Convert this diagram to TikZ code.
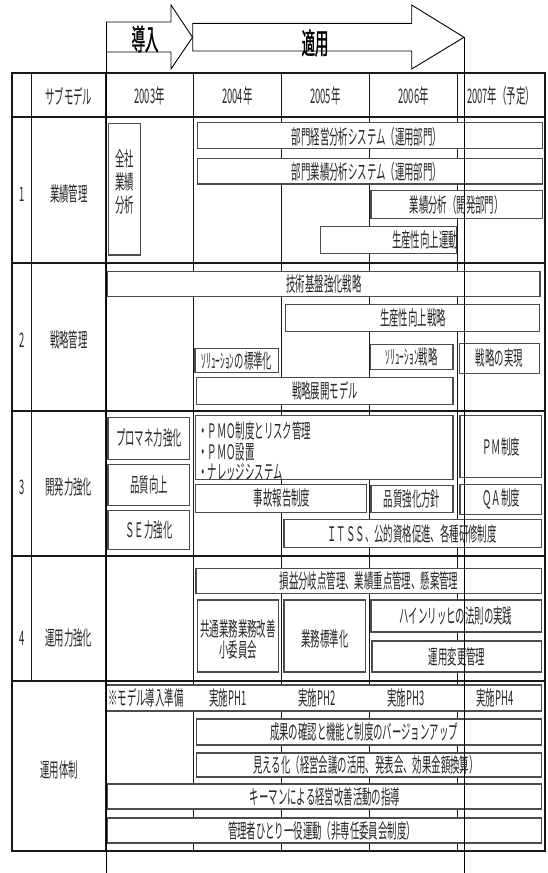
\documentclass[tikz,border=0pt]{standalone}
\usepackage{fontspec}
\newfontfamily\jp[FakeStretch=0.47]{Noto Sans CJK JP}
\newfontfamily\jpbig[FakeStretch=0.46,FakeBold=1.2]{Noto Sans CJK JP}
\newcommand\bx[5]{\node[bx, minimum width={#4-#2}, minimum height={#5-#3}] (#1) at ({(#2+#4)/2},{(#3+#5)/2}) {};}
\begin{document}
\begin{tikzpicture}[x=1pt,y=-1pt,
  grid/.style={line width=1pt,draw=black!90},
  frame/.style={line width=2pt,draw=black!90},
  bx/.style={draw=black!70,line width=1.1pt,fill=white,inner sep=0pt,outer sep=0pt,rectangle},
  txt/.style={font={\jp\fontsize{20}{23}\selectfont},text=black!85,inner sep=0pt},
  big/.style={font={\jpbig\fontsize{29}{30}\selectfont},text=black,inner sep=0pt},
  longline/.style={line width=1pt,draw=black},
  arrowshape/.style={line width=0.9pt,draw=black,fill=white}]
\useasboundingbox (0,0) rectangle (547,873);
% table grid
\foreach \x in {193.3,281.3,369.3,457.7} \draw[grid] (\x,72.7) -- (\x,851);
\draw[grid] (31.7,72.7) -- (31.7,681);
\draw[grid,line width=1.5pt] (106,72.7) -- (106,851);
\draw[frame] (12.3,72.7) rectangle (545,851);
\foreach \y in {116.7,263.3,410.7,556,681} \draw[frame] (12.3,\y) -- (545,\y);
% header
\node[txt] (h0) at (68.8,96) {サブモデル};
\node[txt] (h1) at (149.6,96) {2003年};
\node[txt] (h2) at (237.3,96) {2004年};
\node[txt] (h3) at (325.3,96) {2005年};
\node[txt] (h4) at (413.5,96) {2006年};
\node[txt] (h5) at (501,96) {2007年（予定）};
% row labels
\node[txt] (n1) at (22,194) {1};
\node[txt] (r1) at (68.8,194) {業績管理};
\node[txt] (n2) at (22,340) {2};
\node[txt] (r2) at (68.8,340) {戦略管理};
\node[txt] (n3) at (22,487) {3};
\node[txt] (r3) at (68.8,487) {開発力強化};
\node[txt] (n4) at (22,638) {4};
\node[txt] (r4) at (68.8,638) {運用力強化};
\node[txt] (r5) at (59,770) {運用体制};
% row 1 boxes
\bx{A1}{108.3}{123.3}{140.7}{255}
\bx{B1}{197.6}{122.7}{542.5}{148.5}
\bx{B2}{197.6}{158.9}{542.5}{184}
\bx{B3}{371}{190.7}{542.5}{218.1}
\bx{B4}{320.6}{226.5}{456.4}{253.9}
% row 2 boxes
\bx{C1}{107.3}{271.7}{540}{296.3}
\bx{C2}{285.7}{304.8}{539.4}{331.8}
\bx{C3}{195}{348.3}{278.7}{372.2}
\bx{C4}{370.4}{344.3}{453}{369.5}
\bx{C5}{459.2}{343.2}{539.4}{373.6}
\bx{C6}{196.9}{377.3}{453}{404.3}
% row 3 boxes
\bx{D1}{108}{417.4}{189.9}{459.1}
\bx{D2}{108}{464.1}{189.9}{505.2}
\bx{D3}{108}{510.9}{189.9}{549.3}
\bx{D4}{195.8}{415.7}{453}{479.2}
\bx{D5}{460}{415.7}{541.8}{477.5}
\bx{D6}{195.8}{484.2}{366.9}{512.6}
\bx{D7}{371}{485.2}{453}{512.6}
\bx{D8}{460}{484.2}{541.8}{514.2}
\bx{D9}{284}{519.2}{541.8}{547.6}
% row 4 boxes
\bx{E1}{196}{568.4}{541.8}{593.5}
\bx{E2}{197.6}{600}{278.7}{672}
\bx{E3}{284}{600}{365.9}{672}
\bx{E4}{371}{600}{541.8}{632}
\bx{E5}{372}{641}{541.8}{672}
% row 5 boxes
\bx{F1}{106.7}{685}{541.7}{711}
\bx{F2}{196.9}{719}{541.8}{745}
\bx{F3}{196.9}{753}{541.8}{777}
\bx{F4}{107.3}{784}{541.8}{809}
\bx{F5}{107.3}{818}{541.8}{843}
% long vertical lines and arrows
\draw[arrowshape] (192.7,23.3) -- (411.7,23.3) -- (411.7,5) -- (464,37.3) -- (411.7,69) -- (411.7,51) -- (192.7,51) -- cycle;
\draw[arrowshape] (106,22) -- (171,22) -- (171,5) -- (192.5,37.3) -- (171,69) -- (171,52) -- (106,52);
\coordinate (L1top) at (106,22);
\coordinate (L1bot) at (106,873);
\coordinate (L2top) at (464,37.3);
\coordinate (L2bot) at (464,873);
\draw[longline] (L1top) -- (L1bot);
\draw[longline] (L2top) -- (L2bot);
\node[big] (dounyu) at (145,39) {導入};
\node[big] (tekiyou) at (315,43) {適用};
% texts row 1
\node[txt,align=center,font={\jp\fontsize{20}{23.3}\selectfont}] (A1t) at (124.5,182) {全社\\業績\\分析};
\node[txt] (B1t) at (367,136.5) {部門経営分析システム（運用部門）};
\node[txt] (B2t) at (367,171.5) {部門業績分析システム（運用部門）};
\node[txt] (B3t) at (456.7,204.4) {業績分析（開発部門）};
\node[txt,anchor=east] (B4t) at (458,240.2) {生産性向上運動};
% texts row 2
\node[txt] (C1t) at (324,284) {技術基盤強化戦略};
\node[txt] (C2t) at (413,318.3) {生産性向上戦略};
\node[txt] (C3t) at (237,361) {ｿﾘｭｰｼｮﾝの標準化};
\node[txt] (C4t) at (411.7,357) {ｿﾘｭｰｼｮﾝ戦略};
\node[txt] (C5t) at (499.3,358.4) {戦略の実現};
\node[txt] (C6t) at (325,391) {戦略展開モデル};
% texts row 3
\node[txt] (D1t) at (149,438) {プロマネ力強化};
\node[txt] (D2t) at (149,484.6) {品質向上};
\node[txt] (D3t) at (149,530) {ＳＥ力強化};
\node[txt,anchor=west] (D4a) at (198,430.7) {・ＰＭＯ制度とリスク管理};
\node[txt,anchor=west] (D4b) at (198,452.5) {・ＰＭＯ設置};
\node[txt,anchor=west] (D4c) at (198,472.5) {・ナレッジシステム};
\node[txt] (D5t) at (501,447) {ＰＭ制度};
\node[txt] (D6t) at (282,498.4) {事故報告制度};
\node[txt] (D7t) at (412,499) {品質強化方針};
\node[txt] (D8t) at (501,499.2) {ＱＡ制度};
\node[txt] (D9t) at (412,533.4) {ＩＴＳＳ、公的資格促進、各種研修制度};
% texts row 4
\node[txt] (E1t) at (369,581) {損益分岐点管理、業績重点管理、懸案管理};
\node[txt,align=center,font={\jp\fontsize{20}{21.4}\selectfont}] (E2t) at (238,639.3) {共通業務業務改善\\小委員会};
\node[txt] (E3t) at (325,638.6) {業務標準化};
\node[txt] (E4t) at (456,616) {ハインリッヒの法則の実践};
\node[txt] (E5t) at (457,657) {運用変更管理};
% texts row 5
\node[txt,anchor=west] (F1a) at (108,698) {※モデル導入準備};
\node[txt] (F1b) at (228,698) {実施PH1};
\node[txt] (F1c) at (317,698) {実施PH2};
\node[txt] (F1d) at (406,698) {実施PH3};
\node[txt] (F1e) at (495,698) {実施PH4};
\node[txt] (F2t) at (364,732) {成果の確認と機能と制度のバージョンアップ};
\node[txt] (F3t) at (366,765) {見える化（経営会議の活用、発表会、効果金額換算）};
\node[txt] (F4t) at (325,796.5) {キーマンによる経営改善活動の指導};
\node[txt] (F5t) at (322,830.5) {管理者ひとり一役運動（非専任委員会制度）};
\end{tikzpicture}
\end{document}
